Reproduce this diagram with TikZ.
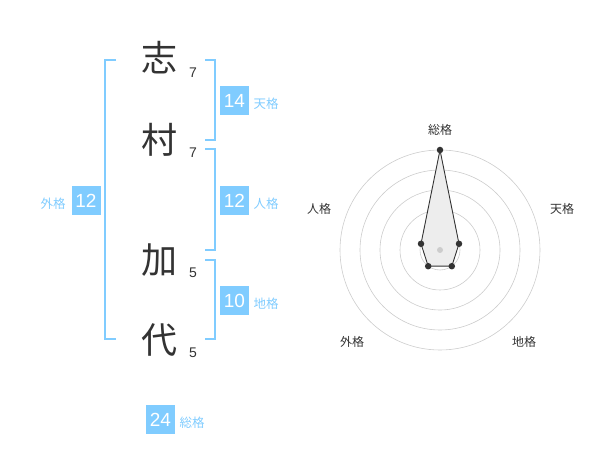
\documentclass[tikz,border=0pt]{standalone}
\usepackage{fontspec}
\setmainfont{Liberation Sans}
\newfontfamily\cjk{Noto Sans CJK JP}
\definecolor{sky}{HTML}{80CCFF}
\definecolor{ink}{HTML}{333333}
\definecolor{ring}{HTML}{CCCCCC}
\begin{document}
\begin{tikzpicture}[x=1pt,y=-1pt,
  kanji/.style={font=\cjk\fontsize{36}{36}\selectfont,text=ink,inner sep=0pt},
  strokes/.style={font=\fontsize{14}{14}\selectfont,text=ink,inner sep=0pt},
  numbox/.style={fill=sky,text=white,minimum width=29pt,minimum height=29pt,inner sep=0pt,font=\fontsize{19}{19}\selectfont},
  kaku/.style={font=\cjk\fontsize{12.5}{12.5}\selectfont,text=sky,inner sep=0pt},
  bracket/.style={draw=sky,line width=1.6pt},
  radlab/.style={font=\cjk\fontsize{12}{12}\selectfont,text=ink,inner sep=0pt},
  dot/.style={circle,fill=ink,inner sep=0pt,minimum size=6.5pt}]
\useasboundingbox (0,0) rectangle (600,470);
% characters
\node[kanji] (c1) at (159,58) {志};
\node[kanji] (c2) at (159,140) {村};
\node[kanji] (c3) at (159,260) {加};
\node[kanji] (c4) at (159,340.5) {代};
\node[strokes] (s1) at (193,73) {7};
\node[strokes] (s2) at (193,153) {7};
\node[strokes] (s3) at (193,272.5) {5};
\node[strokes] (s4) at (193,352.5) {5};
% brackets
\draw[bracket] (116,60) -- (105,60) -- (105,339) -- (116,339);
\draw[bracket] (205,60) -- (215,60) -- (215,140) -- (205,140);
\draw[bracket] (205,149) -- (215,149) -- (215,250) -- (205,250);
\draw[bracket] (205,260) -- (215,260) -- (215,339) -- (205,339);
% boxes
\node[numbox] (ten) at (234.5,100.5) {14};
\node[kaku] (tenl) at (266,104) {天格};
\node[numbox] (jin) at (234.5,200.5) {12};
\node[kaku] (jinl) at (266,204) {人格};
\node[numbox] (chi) at (234.5,300.5) {10};
\node[kaku] (chil) at (266,304) {地格};
\node[numbox] (gai) at (86,200.5) {12};
\node[kaku] (gail) at (53,204) {外格};
\node[numbox] (sou) at (160.5,419.5) {24};
\node[kaku] (soul) at (192,423) {総格};
% radar
\coordinate (o) at (440,250);
\foreach \r in {20,40,60,80,100} \draw[ring,line width=0.6pt] (o) circle[radius=\r];
\path (o) ++(0,-100) coordinate (pS)
      (o) ++(19.0,-6.2) coordinate (pT)
      (o) ++(11.8,16.2) coordinate (pC)
      (o) ++(-11.8,16.2) coordinate (pG)
      (o) ++(-19.0,-6.2) coordinate (pJ);
\draw[ink,line width=0.9pt,fill=black!7] (pS) -- (pT) -- (pC) -- (pG) -- (pJ) -- cycle;
\node[circle,fill=ring,inner sep=0pt,minimum size=6pt] (oc) at (o) {};
\foreach \p in {pS,pT,pC,pG,pJ} \node[dot] at (\p) {};
\node[radlab] (rS) at (440,130) {総格};
\node[radlab] (rT) at (562,208.5) {天格};
\node[radlab] (rJ) at (319,208.5) {人格};
\node[radlab] (rG) at (352,342) {外格};
\node[radlab] (rC) at (524,342) {地格};
\end{tikzpicture}
\end{document}
